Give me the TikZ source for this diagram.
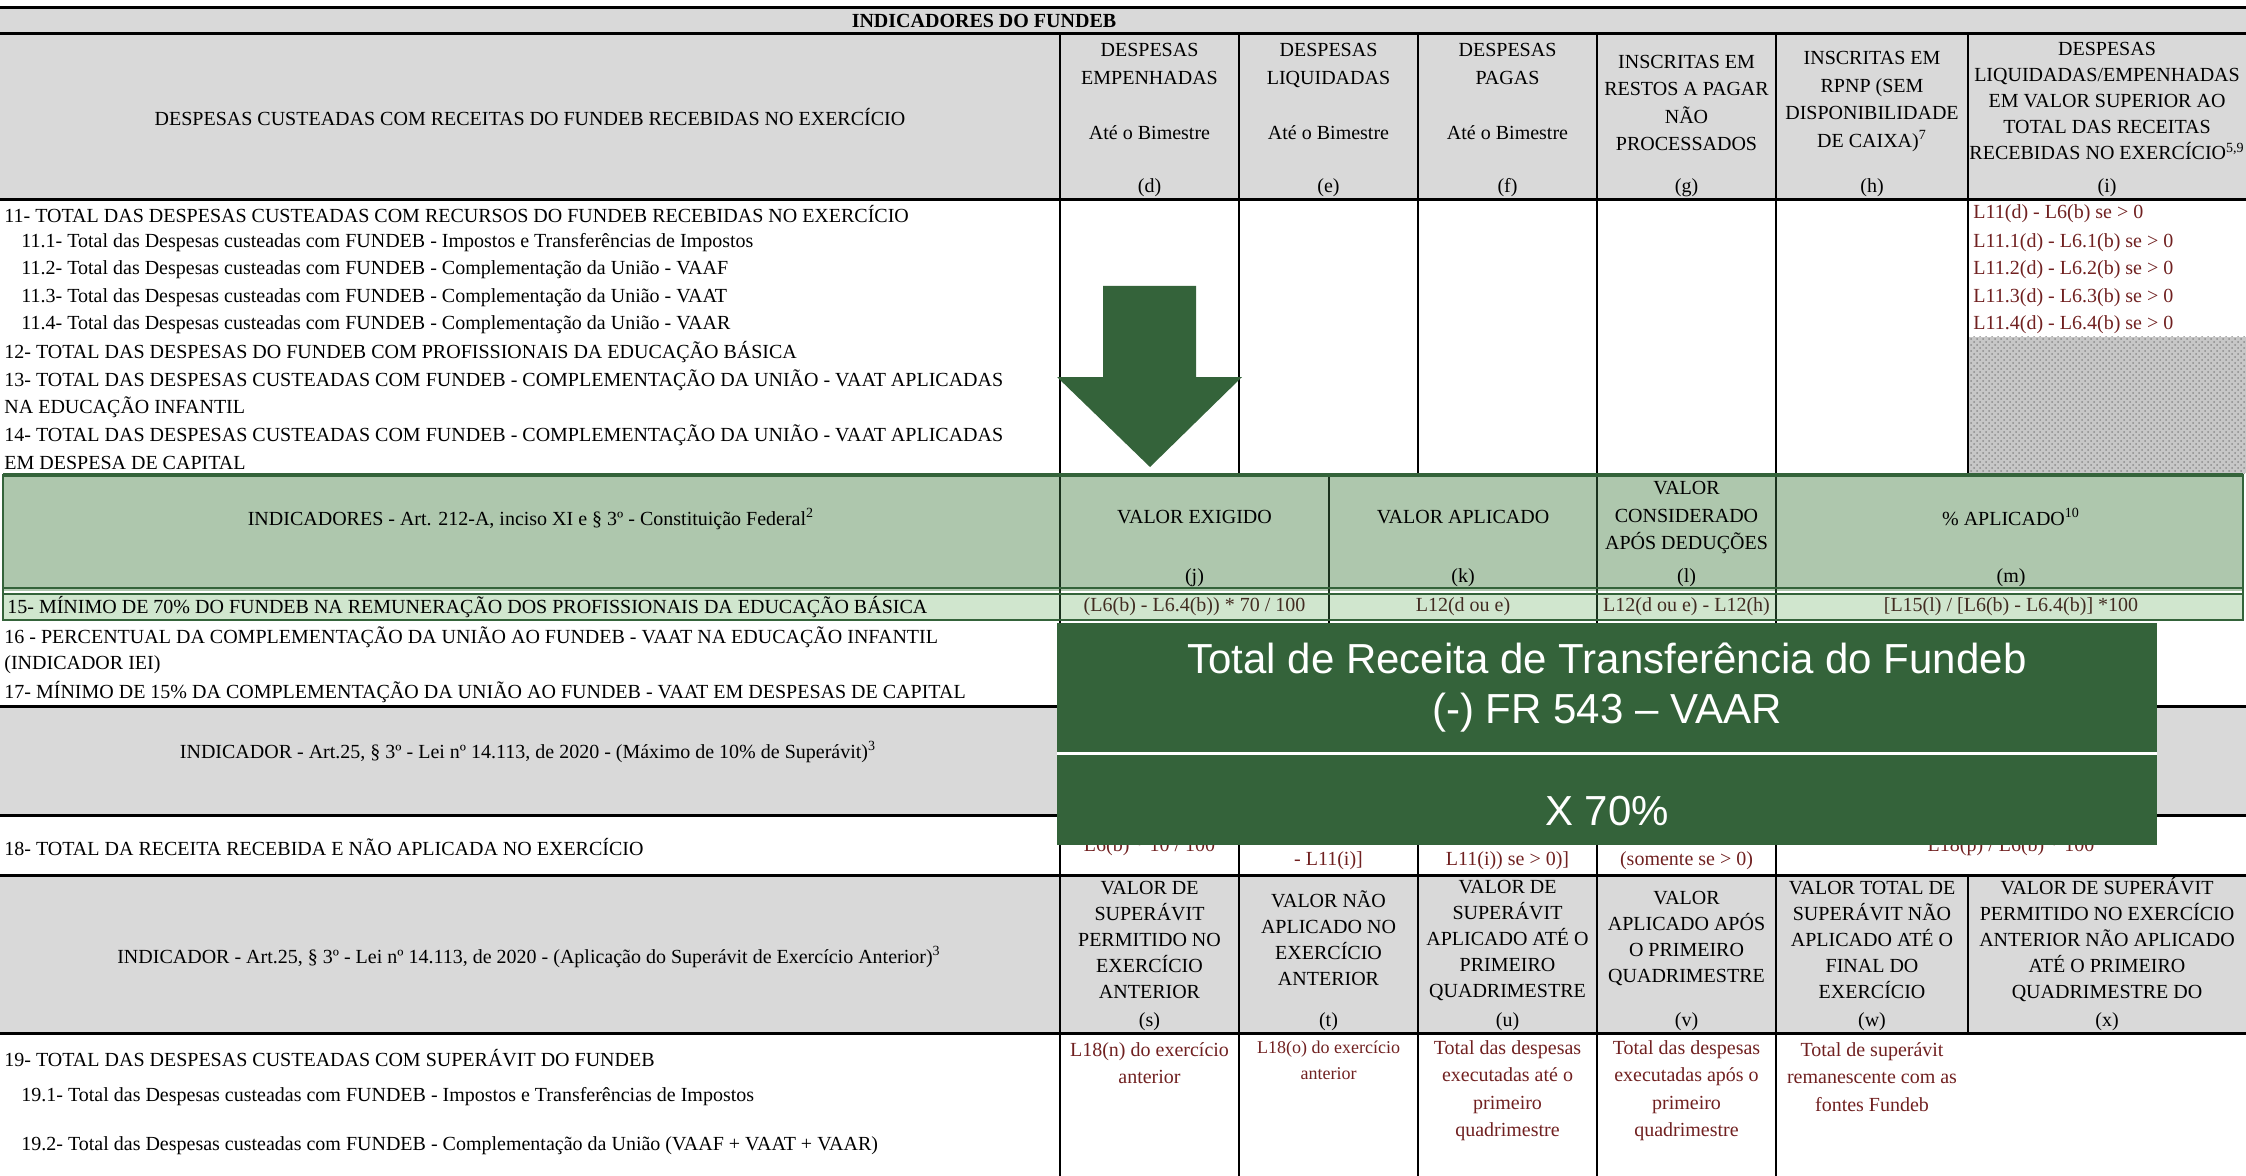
\documentclass[tikz,border=0pt]{standalone}
\usepackage{fontspec}
\setmainfont{Liberation Serif}
\newfontfamily\boxfont{Liberation Sans}
\usepackage{xcolor}
\usepackage{tikz}
\usetikzlibrary{patterns}

\definecolor{hdrgray}{RGB}{217,217,217}
\definecolor{dkgreen}{RGB}{52,99,58}
\definecolor{hdrgreen}{RGB}{174,199,173}
\definecolor{rowgreen}{RGB}{208,230,206}
\definecolor{redtxt}{RGB}{112,32,32}
\definecolor{formtxt}{RGB}{66,44,34}

\newcommand{\tabfont}{\fontsize{10}{13.75}\selectfont}
\newcommand{\hdfont}{\fontsize{10}{13}\selectfont}

\begin{document}
\begin{tikzpicture}[x=0.5pt, y=-0.5pt,
    txt/.style={inner sep=0pt, font=\tabfont, align=center},
    hdcell/.style={inner sep=0pt, font=\hdfont, align=center},
    lft/.style={txt, anchor=west},
    gridline/.style={line width=0.65pt},
    heavyline/.style={line width=1.5pt},
    greenline/.style={dkgreen, line width=1pt},
    boxtext/.style={inner sep=0pt, anchor=base, text=white, font=\boxfont\fontsize{21}{25}\selectfont}]
  \useasboundingbox (0,0) rectangle (2246,1176);

  % fundos
  \fill[hdrgray] (0,8) rectangle (2246,200);
  \fill[hdrgray] (0,706) rectangle (2246,815);
  \fill[hdrgray] (0,875) rectangle (2246,1033);
  \fill[black!22] (1968,337) rectangle (2246,473);
  \fill[pattern=crosshatch dots, pattern color=black!45] (1968,337) rectangle (2246,473);
  \fill[hdrgreen] (3,475) rectangle (2243,591);
  \fill[rowgreen] (3,593) rectangle (2243,620);

  % linhas
  \foreach \y in {8,34,200,706,815,875,1033}
    \draw[heavyline] (0,\y) -- (2246,\y);
  \foreach \x in {1060,1239,1418,1597,1776,1968}
    \draw[gridline] (\x,34) -- (\x,473);
  \foreach \x in {1060,1329,1597,1776}
    \draw[gridline] (\x,620) -- (\x,706);
  \foreach \x in {1060,1239,1418,1597,1776}
    \draw[gridline] (\x,815) -- (\x,875);
  \foreach \x in {1060,1239,1418,1597,1776,1968}
    \draw[gridline] (\x,875) -- (\x,1033);
  \foreach \x in {1060,1239,1418,1597,1776}
    \draw[gridline] (\x,1033) -- (\x,1176);
  \foreach \x in {1060,1329,1597,1776}
    \draw[gridline, dkgreen!50!black] (\x,475) -- (\x,620);
  \draw[greenline, line width=1.2pt] (3,475) rectangle (2243,620);
  \draw[greenline, line width=2pt] (3,475) -- (2243,475);
  \draw[greenline] (3,588) -- (2243,588);
  \draw[greenline] (3,594) -- (2243,594);

  \fill[dkgreen] (1103,286) -- (1196,286) -- (1196,377) -- (1242,377)
    -- (1150,467) -- (1057,377) -- (1103,377) -- cycle;

  % cabecalho
  \node[txt, font=\bfseries\tabfont] (title) at (984,21) {INDICADORES DO FUNDEB};
  \node[txt] (hdesc) at (530,117) {DESPESAS CUSTEADAS COM RECEITAS DO FUNDEB RECEBIDAS NO EXERCÍCIO};
  \node[txt] (hd) at (1149.5,91.5) {DESPESAS\\EMPENHADAS\\[13.75pt]Até o Bimestre};
  \node[txt] (he) at (1328.5,91.5) {DESPESAS\\LIQUIDADAS\\[13.75pt]Até o Bimestre};
  \node[txt] (hf) at (1507.5,91.5) {DESPESAS\\PAGAS\\[13.75pt]Até o Bimestre};
  \node[txt] (hg) at (1686.5,103) {INSCRITAS EM\\RESTOS A PAGAR\\NÃO\\PROCESSADOS};
  \node[txt] (hh) at (1872,101.5) {INSCRITAS EM\\RPNP (SEM\\DISPONIBILIDADE\\DE CAIXA)\textsuperscript{7}};
  \node[hdcell] (hi) at (2107,101) {DESPESAS\\LIQUIDADAS/EMPENHADAS\\EM VALOR SUPERIOR AO\\TOTAL DAS RECEITAS\\RECEBIDAS NO EXERCÍCIO\textsuperscript{5,9}};
  \foreach \x/\l in {1149.5/d, 1328.5/e, 1507.5/f, 1686.5/g, 1872/h, 2107/i}
    \node[txt] (let\l) at (\x,188) {(\l)};

  \foreach \x/\y/\t [count=\n] in {
      4/214/{11- TOTAL DAS DESPESAS CUSTEADAS COM RECURSOS DO FUNDEB RECEBIDAS NO EXERCÍCIO},
      21/242.5/{11.1- Total das Despesas custeadas com FUNDEB - Impostos e Transferências de Impostos},
      21/270/{11.2- Total das Despesas custeadas com FUNDEB - Complementação da União - VAAF},
      21/297.5/{11.3- Total das Despesas custeadas com FUNDEB - Complementação da União - VAAT},
      21/325/{11.4- Total das Despesas custeadas com FUNDEB - Complementação da União - VAAR},
      4/352.5/{12- TOTAL DAS DESPESAS DO FUNDEB COM PROFISSIONAIS DA EDUCAÇÃO BÁSICA},
      4/380/{13- TOTAL DAS DESPESAS CUSTEADAS COM FUNDEB - COMPLEMENTAÇÃO DA UNIÃO - VAAT APLICADAS},
      4/407.5/{NA EDUCAÇÃO INFANTIL},
      4/435/{14- TOTAL DAS DESPESAS CUSTEADAS COM FUNDEB - COMPLEMENTAÇÃO DA UNIÃO - VAAT APLICADAS},
      4/462.5/{EM DESPESA DE CAPITAL}}
    \node[lft] (r\n) at (\x,\y) {\t};
  \foreach \y/\t [count=\n] in {
      214/{L11(d) - L6(b) se > 0}, 242.5/{L11.1(d) - L6.1(b) se > 0},
      270/{L11.2(d) - L6.2(b) se > 0}, 297.5/{L11.3(d) - L6.3(b) se > 0},
      325/{L11.4(d) - L6.4(b) se > 0}}
    \node[lft, text=redtxt] (ri\n) at (1973,\y) {\t};

  % indicadores art. 212-A
  \node[txt] (indfed) at (531,519) {INDICADORES - Art. 212-A, inciso XI e § 3º - Constituição Federal\textsuperscript{2}};
  \node[txt] (hj) at (1194.5,517) {VALOR EXIGIDO};
  \node[txt] (hk) at (1463,517) {VALOR APLICADO};
  \node[txt] (hl) at (1686.5,518) {VALOR\\CONSIDERADO\\APÓS DEDUÇÕES};
  \node[txt] (hm) at (2011,517) {\% APLICADO\textsuperscript{10}};
  \foreach \x/\l in {1194.5/j, 1463/k, 1686.5/l, 2011/m}
    \node[txt] (let\l) at (\x,578) {(\l)};
  \node[lft] (r15) at (7,607) {15- MÍNIMO DE 70\% DO FUNDEB NA REMUNERAÇÃO DOS PROFISSIONAIS DA EDUCAÇÃO BÁSICA};
  \node[txt, text=formtxt] (fj) at (1194.5,607) {(L6(b) - L6.4(b)) * 70 / 100};
  \node[txt, text=formtxt] (fk) at (1463,607) {L12(d ou e)};
  \node[txt, text=formtxt] (fl) at (1686.5,607) {L12(d ou e) - L12(h)};
  \node[txt, text=formtxt] (fm) at (2011,607) {[L15(l) / [L6(b) - L6.4(b)] *100};
  \node[lft] (r16) at (4,637) {16 - PERCENTUAL DA COMPLEMENTAÇÃO DA UNIÃO AO FUNDEB - VAAT NA EDUCAÇÃO INFANTIL};
  \node[lft] (r16b) at (4,665) {(INDICADOR IEI)};
  \node[lft] (r17) at (4,692) {17- MÍNIMO DE 15\% DA COMPLEMENTAÇÃO DA UNIÃO AO FUNDEB - VAAT EM DESPESAS DE CAPITAL};

  % superavit
  \node[txt] (indmax) at (528,752) {INDICADOR - Art.25, § 3º - Lei nº 14.113, de 2020 - (Máximo de 10\% de Superávit)\textsuperscript{3}};
  \node[lft] (r18) at (4,847) {18- TOTAL DA RECEITA RECEBIDA E NÃO APLICADA NO EXERCÍCIO};
  \node[txt, text=redtxt] (fn) at (1149.5,847) {L6(b) * 10 / 100};
  \node[txt, text=redtxt] (fo) at (1328.5,861) {- L11(i)]};
  \node[txt, text=redtxt] (fp) at (1507.5,861) {L11(i)) se > 0)]};
  \node[txt, text=redtxt] (fq) at (1686.5,861) {(somente se > 0)};
  \node[txt, text=redtxt] (fr) at (2011,847) {L18(p) / L6(b) * 100};

  \node[txt] (indant) at (529,957) {INDICADOR - Art.25, § 3º - Lei nº 14.113, de 2020 - (Aplicação do Superávit de Exercício Anterior)\textsuperscript{3}};
  \node[hdcell] (hs) at (1149.5,940) {VALOR DE\\SUPERÁVIT\\PERMITIDO NO\\EXERCÍCIO\\ANTERIOR};
  \node[hdcell] (ht) at (1328.5,938) {VALOR NÃO\\APLICADO NO\\EXERCÍCIO\\ANTERIOR};
  \node[hdcell] (hu) at (1507.5,940) {VALOR DE\\SUPERÁVIT\\APLICADO ATÉ O\\PRIMEIRO\\QUADRIMESTRE};
  \node[hdcell] (hv) at (1686.5,938) {VALOR\\APLICADO APÓS\\O PRIMEIRO\\QUADRIMESTRE};
  \node[hdcell] (hw) at (1872,940) {VALOR TOTAL DE\\SUPERÁVIT NÃO\\APLICADO ATÉ O\\FINAL DO\\EXERCÍCIO};
  \node[hdcell] (hx) at (2107,940) {VALOR DE SUPERÁVIT\\PERMITIDO NO EXERCÍCIO\\ANTERIOR NÃO APLICADO\\ATÉ O PRIMEIRO\\QUADRIMESTRE DO};
  \foreach \x/\l in {1149.5/s, 1328.5/t, 1507.5/u, 1686.5/v, 1872/w, 2107/x}
    \node[txt] (let\l) at (\x,1022) {(\l)};

  \node[lft] (r19) at (4,1058) {19- TOTAL DAS DESPESAS CUSTEADAS COM SUPERÁVIT DO FUNDEB};
  \node[lft] (r19a) at (21,1097) {19.1- Total das Despesas custeadas com FUNDEB - Impostos e Transferências de Impostos};
  \node[lft] (r19b) at (21,1146) {19.2- Total das Despesas custeadas com FUNDEB - Complementação da União (VAAF + VAAT + VAAR)};
  \node[txt, text=redtxt] (fs) at (1149.5,1063) {L18(n) do exercício\\anterior};
  \node[txt, text=redtxt, font=\fontsize{9}{13}\selectfont] (ft) at (1328.5,1060) {L18(o) do exercício\\anterior};
  \node[txt, text=redtxt] (fu) at (1507.5,1090.5) {Total das despesas\\executadas até o\\primeiro\\quadrimestre};
  \node[txt, text=redtxt] (fv) at (1686.5,1090.5) {Total das despesas\\executadas após o\\primeiro\\quadrimestre};
  \node[txt, text=redtxt] (fw) at (1872,1077) {Total de superávit\\remanescente com as\\fontes Fundeb};

  % destaque
  \fill[dkgreen] (1057,623) rectangle (2157,845);
  \draw[white, line width=1.5pt] (1057,753) -- (2157,753);
  \node[boxtext] (fund1) at (1607,673) {Total de Receita de Transferência do Fundeb};
  \node[boxtext] (fund2) at (1607,723) {(-) FR 543 – VAAR};
  \node[boxtext] (pct) at (1607,825) {X 70\%};
\end{tikzpicture}
\end{document}
